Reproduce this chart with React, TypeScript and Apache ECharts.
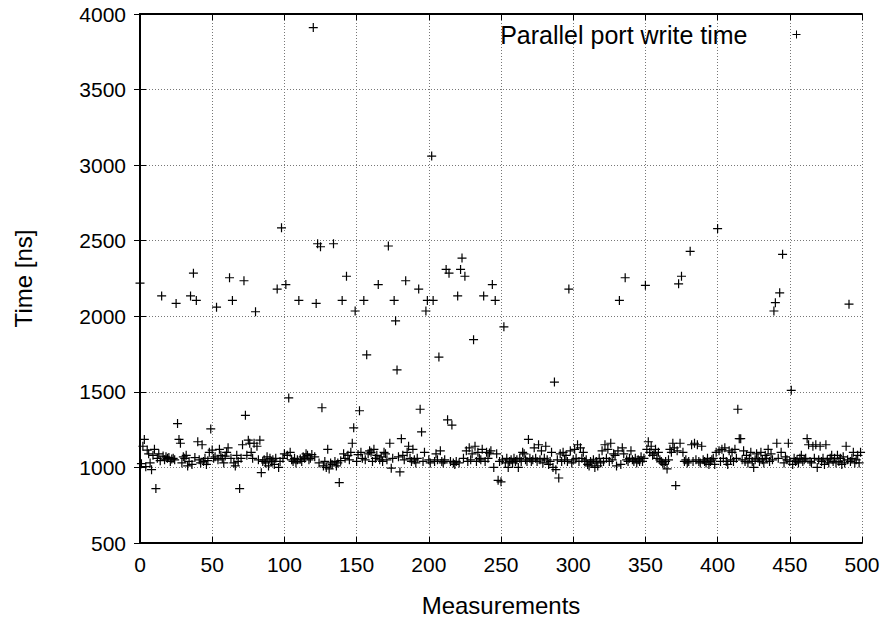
import React, { useEffect, useRef } from "react";
import * as echarts from "echarts";

// Measurement index is the array position (0..499); values are write times in ns.
const times: number[] = [
  2220, 1025, 1140, 1185, 1005, 1115, 1090, 1030, 985, 1080,
  1120, 860, 1060, 1090, 1045, 2135, 1075, 1050, 1070, 1060,
  1065, 1040, 1055, 1060, 1050, 2085, 1290, 1185, 1160, 1030,
  1070, 1060, 1080, 1010, 1040, 2135, 1020, 2285, 1065, 2105,
  1170, 1050, 1030, 1150, 1040, 1060, 1020, 1045, 1100, 1255,
  1115, 1060, 1070, 2060, 1050, 1120, 1080, 1060, 1030, 1075,
  1100, 1130, 2255, 1060, 2105, 1030, 1010, 1080, 1040, 860,
  1060, 1150, 2235, 1345, 1080, 1180, 1160, 1100, 1060, 1160,
  2030, 1140, 1050, 1180, 965, 1040, 1050, 1030, 1070, 1010,
  1060, 1040, 1050, 1020, 1060, 2180, 1000, 1040, 2585, 1060,
  1090, 2210, 1080, 1460, 1100, 1050, 1040, 1060, 1030, 1050,
  2105, 1055, 1040, 1070, 1060, 1090, 1080, 1050, 1060, 1085,
  3910, 1070, 2085, 2480, 1030, 2460, 1395, 1010, 1040, 1000,
  1120, 990, 1030, 1020, 2480, 1040, 1010, 1030, 900, 1045,
  2105, 1090, 1060, 2265, 1080, 1050, 1100, 1160, 1262, 2035,
  1040, 1085, 1375, 1100, 1060, 2105, 1050, 1745, 1090, 1110,
  1100, 1040, 1120, 1060, 1080, 2210, 1050, 1070, 1040, 1100,
  1090, 1050, 2465, 1160, 995, 1060, 2105, 1970, 1645, 1070,
  970, 1190, 1080, 1050, 2235, 1100, 1140, 1060, 1040, 1120,
  1050, 1030, 1060, 2180, 1385, 1235, 1040, 1100, 2035, 2105,
  1050, 1030, 3060, 2105, 1040, 1090, 1050, 1730, 1110, 1040,
  1030, 1050, 2310, 1315, 2285, 1040, 1280, 1030, 1020, 1040,
  2135, 1030, 2310, 2385, 1060, 2265, 1110, 1040, 1130, 1050,
  1090, 1845, 1140, 1040, 1100, 1060, 1050, 1120, 2135, 1040,
  1100, 1060, 1095, 1110, 2210, 1000, 2105, 1090, 915, 1040,
  905, 1050, 1930, 1030, 1060, 1000, 1040, 1050, 1030, 1060,
  1040, 1050, 1000, 1060, 1040, 1100, 1090, 1050, 1040, 1185,
  1060, 1040, 1050, 1130, 1060, 1040, 1150, 1050, 1110, 1030,
  1060, 1140, 1050, 1020, 1040, 1100, 1000, 1565, 985, 1050,
  930, 1090, 1040, 1100, 1050, 1080, 1040, 2180, 1110, 1030,
  1050, 1120, 1060, 1150, 1040, 1130, 1060, 1100, 1040, 1050,
  1020, 1010, 1040, 1030, 1050, 1000, 1040, 1010, 1060, 1030,
  1110, 1040, 1150, 1060, 1120, 1040, 1160, 1050, 1090, 1080,
  1010, 1110, 2105, 1020, 1130, 1090, 2255, 1050, 1040, 1060,
  1110, 1050, 1040, 1060, 1030, 1050, 1040, 1070, 1040, 1060,
  2205, 1120, 1170, 1100, 1140, 1080, 1090, 1120, 1060, 1100,
  1050, 1040, 1030, 1020, 1040, 990, 1050, 1120, 1100, 1160,
  1130, 880, 1110, 2215, 1160, 2265, 1100, 1040, 1050, 1030,
  1040, 2430, 1150, 1040, 1160, 1050, 1150, 1040, 1030, 1140,
  1050, 1040, 1030, 1060, 1020, 1040, 1050, 1060, 1020, 1100,
  2580, 1110, 1040, 1120, 1060, 1130, 1040, 1020, 1110, 1050,
  1100, 1040, 1120, 1060, 1385, 1190, 1190, 1050, 1110, 1040,
  1080, 1030, 1060, 1100, 1040, 1000, 1050, 1090, 1060, 1040,
  1100, 1050, 1030, 1080, 1060, 1120, 1040, 1090, 1050, 2035,
  2090, 1160, 1060, 2155, 1100, 2410, 1030, 1070, 1050, 1160,
  1040, 1510, 1020, 1060, 1040, 1050, 1030, 1060, 1080, 1040,
  1050, 1060, 1190, 1150, 1040, 1030, 1140, 1060, 1150, 1000,
  1050, 1140, 1040, 1060, 1020, 1150, 1050, 1030, 1060, 1080,
  1040, 1060, 1030, 1080, 1040, 1060, 1020, 1070, 1030, 1140,
  1050, 2080, 1040, 1060, 1100, 1030, 1050, 1080, 1030, 1100,
];

const seriesName = "Parallel port write time";
const xTitle = "Measurements";
const yTitle = "Time [ns]";

const FONT = "'Liberation Sans', Arial, sans-serif";
const TICK_FS = 21;
const TITLE_FS = 24;
const LEGEND_FS = 25;
const PLUS = "path://M0,5L10,5M5,0L5,10";

export default function App() {
  const ref = useRef<HTMLDivElement>(null);
  useEffect(() => {
    document.body.style.margin = "0";
    if (!ref.current) return;
    const chart = echarts.init(ref.current, null, { renderer: "svg" });
    const data = times.map((v, i) => [i, v]);
    const hiddenLabels = { show: false };
    const plain = (v: number) => String(v);
    chart.setOption({
      animation: false,
      backgroundColor: "#fff",
      textStyle: { fontFamily: FONT },
      grid: { left: 140, right: 26, top: 14, bottom: 78, containLabel: false, outerBoundsMode: "none" },
      legend: {
        right: 82,
        top: 17,
        align: "right",
        icon: PLUS,
        itemWidth: 8,
        itemHeight: 8,
        itemStyle: { color: "#000", borderColor: "#000", borderWidth: 1 },
        textStyle: { fontFamily: FONT, fontSize: LEGEND_FS, color: "#000", padding: [0, 40, 0, 0] },
        data: [seriesName],
      },
      xAxis: [
        {
          type: "value",
          min: 0,
          max: 500,
          interval: 50,
          name: xTitle,
          nameLocation: "middle",
          nameGap: 50,
          nameTextStyle: { fontFamily: FONT, fontSize: TITLE_FS, color: "#000" },
          axisLine: { show: true, lineStyle: { color: "#000", width: 2 } },
          axisTick: { show: true, inside: true, length: 6, lineStyle: { color: "#000" } },
          axisLabel: { fontFamily: FONT, fontSize: TICK_FS, color: "#000", margin: 11, formatter: plain },
          splitLine: { show: true, lineStyle: { color: "#777", type: [1, 2], width: 1 } },
        },
        {
          type: "value",
          position: "top",
          min: 0,
          max: 500,
          interval: 50,
          axisLine: { show: true, lineStyle: { color: "#000", width: 2 } },
          axisTick: { show: true, inside: true, length: 6, lineStyle: { color: "#000" } },
          axisLabel: hiddenLabels,
          splitLine: { show: false },
        },
      ],
      yAxis: [
        {
          type: "value",
          min: 500,
          max: 4000,
          interval: 500,
          name: yTitle,
          nameLocation: "middle",
          nameGap: 105,
          nameRotate: 90,
          nameTextStyle: { fontFamily: FONT, fontSize: TITLE_FS, color: "#000" },
          axisLine: { show: true, lineStyle: { color: "#000", width: 2 } },
          axisTick: { show: true, inside: true, length: 6, lineStyle: { color: "#000" } },
          axisLabel: { fontFamily: FONT, fontSize: TICK_FS, color: "#000", margin: 14, formatter: plain },
          splitLine: { show: true, lineStyle: { color: "#777", type: [1, 2], width: 1 } },
        },
        {
          type: "value",
          position: "right",
          min: 500,
          max: 4000,
          interval: 500,
          axisLine: { show: true, lineStyle: { color: "#000", width: 2 } },
          axisTick: { show: true, inside: true, length: 6, lineStyle: { color: "#000" } },
          axisLabel: hiddenLabels,
          splitLine: { show: false },
        },
      ],
      series: [
        {
          name: seriesName,
          type: "scatter",
          xAxisIndex: 0,
          yAxisIndex: 0,
          symbol: PLUS,
          symbolSize: 9,
          itemStyle: { color: "#000", borderColor: "#000", borderWidth: 1.2, opacity: 1 },
          data,
        },
      ],
    });
    return () => chart.dispose();
  }, []);
  return <div ref={ref} style={{ width: 888, height: 621 }} />;
}
